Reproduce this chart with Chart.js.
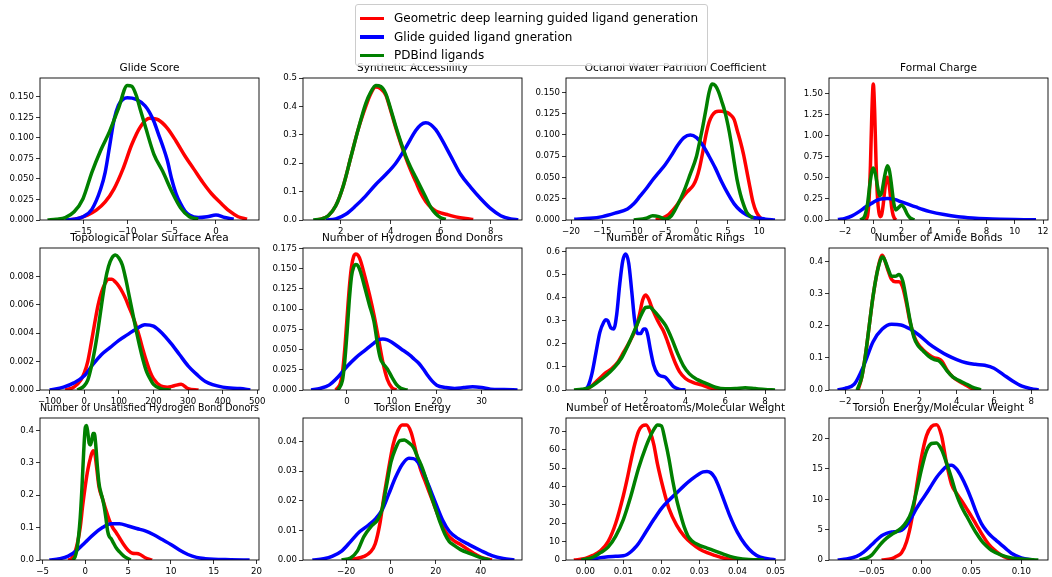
<!DOCTYPE html>
<html>
<head>
<meta charset="utf-8">
<script src="https://cdn.jsdelivr.net/npm/chart.js@4/dist/chart.umd.min.js"></script>
<style>
  body { margin: 0; width: 1052px; height: 577px; overflow: hidden; background: #fff; position: relative; font-family: "DejaVu Sans", sans-serif; }
  canvas { position: absolute; }
  #legend { position: absolute; left: 355px; top: 4px; width: 353px; height: 62px; box-sizing: border-box; border: 1px solid #cccccc; border-radius: 3px; background: rgba(255,255,255,0.8); padding-top: 4px; z-index: 10; overflow: hidden; }
  #legend .item { display: flex; align-items: center; height: 18.5px; font-size: 12px; color: #000; white-space: nowrap; }
  #legend .swatch { display: inline-block; flex-shrink: 0; width: 24px; height: 3.5px; margin: 0 10px 0 4px; }
</style>
</head>
<body>
<div id="legend"></div>
<script>
const seriesNames = ["Geometric deep learning guided ligand generation", "Glide guided ligand gneration", "PDBind ligands"]
const seriesColors = ["#ff0000", "#0000ff", "#008000"]

const titles = [
  "Glide Score", "Synthetic Accessiility", "Octanol Water Patrition Coefficient", "Formal Charge",
  "Topological Polar Surface Area", "Number of Hydrogen Bond Donors", "Number of Aromatic Rings", "Number of Amide Bonds",
  "Number of Unsatisfied Hydrogen Bond Donors", "Torsion Energy", "Number of Heteroatoms/Molecular Weight", "Torsion Energy/Molecular Weight"
]

// ---- curves as [x, density] pairs ----
const glideRed = [[-16.5,0],[-15.5,0.002],[-14.5,0.006],[-13.5,0.012],[-12.5,0.022],[-11.5,0.038],[-10.5,0.062],[-9.5,0.092],[-8.5,0.114],[-7.5,0.124],[-6.5,0.122],[-5.5,0.112],[-4.5,0.096],[-3.5,0.078],[-2.5,0.062],[-1.5,0.046],[-0.5,0.032],[0.5,0.021],[1.5,0.011],[2.5,0.004],[3.5,0.001]]
const glideBlue = [[-17,0],[-16,0.001],[-15,0.004],[-14,0.013],[-13,0.038],[-12.5,0.058],[-12,0.09],[-11.5,0.122],[-11,0.14],[-10.5,0.147],[-10,0.149],[-9,0.147],[-8,0.139],[-7.5,0.131],[-7,0.12],[-6.5,0.105],[-6,0.09],[-5.5,0.073],[-5,0.05],[-4.5,0.032],[-4,0.02],[-3.5,0.011],[-3,0.006],[-2,0.003],[-1,0.004],[0,0.006],[1,0.003],[2,0.001]]
const glideGreen = [[-19,0],[-18,0.001],[-17,0.003],[-16,0.01],[-15,0.026],[-14,0.058],[-13,0.085],[-12,0.108],[-11,0.136],[-10,0.164],[-9.5,0.163],[-9,0.152],[-8.5,0.133],[-8,0.115],[-7,0.08],[-6,0.059],[-5,0.035],[-4,0.015],[-3,0.004],[-2,0.001]]

const synthRed = [[1.0,0],[1.2,0.003],[1.5,0.015],[1.8,0.05],[2.1,0.12],[2.4,0.22],[2.7,0.32],[3.0,0.40],[3.2,0.445],[3.4,0.468],[3.6,0.462],[3.8,0.44],[4.0,0.385],[4.2,0.325],[4.4,0.27],[4.6,0.22],[4.8,0.175],[5.0,0.135],[5.2,0.095],[5.4,0.065],[5.6,0.045],[5.8,0.032],[6.0,0.025],[6.3,0.018],[6.6,0.011],[7.0,0.005],[7.3,0.002]]
const synthBlue = [[1.4,0],[1.8,0.004],[2.2,0.02],[2.6,0.05],[3.0,0.085],[3.4,0.125],[3.8,0.16],[4.2,0.2],[4.6,0.255],[5.0,0.315],[5.2,0.335],[5.4,0.342],[5.6,0.336],[5.8,0.318],[6.0,0.29],[6.4,0.225],[6.8,0.16],[7.2,0.115],[7.6,0.075],[8.0,0.04],[8.4,0.015],[8.8,0.004],[9.1,0.001]]
const synthGreen = [[0.9,0],[1.2,0.003],[1.5,0.015],[1.8,0.05],[2.1,0.12],[2.4,0.22],[2.7,0.32],[3.0,0.41],[3.2,0.45],[3.4,0.474],[3.6,0.47],[3.8,0.445],[4.0,0.39],[4.2,0.33],[4.4,0.275],[4.6,0.225],[4.8,0.185],[5.0,0.15],[5.2,0.115],[5.4,0.08],[5.6,0.045],[5.8,0.022],[6.0,0.008],[6.2,0.002]]

const octRed = [[-6.5,0],[-5.5,0.002],[-4.5,0.006],[-3.5,0.014],[-2.5,0.024],[-1.5,0.033],[-0.5,0.041],[0,0.049],[0.5,0.062],[1,0.08],[1.5,0.1],[2,0.115],[2.5,0.123],[3,0.127],[3.5,0.128],[4,0.128],[4.5,0.127],[5,0.126],[5.5,0.123],[6,0.118],[6.5,0.105],[7,0.092],[7.5,0.077],[8,0.058],[8.5,0.039],[9,0.021],[9.5,0.01],[10,0.004],[10.5,0.001],[11,0]]
const octBlue = [[-19.5,0.001],[-17,0.002],[-15,0.004],[-13,0.008],[-11,0.013],[-10,0.019],[-9,0.028],[-8,0.037],[-7,0.047],[-6,0.056],[-5,0.065],[-4,0.076],[-3,0.088],[-2,0.097],[-1,0.1],[0,0.097],[1,0.088],[2,0.075],[3,0.061],[4,0.045],[5,0.031],[6,0.019],[7,0.011],[8,0.006],[9,0.003],[10,0.002],[11,0.001],[12.5,0]]
const octGreen = [[-10,0],[-8,0.002],[-7,0.005],[-6,0.004],[-5,0.001],[-4,0.005],[-3,0.018],[-2,0.034],[-1,0.054],[0,0.075],[0.5,0.092],[1,0.11],[1.5,0.13],[2,0.15],[2.5,0.16],[3,0.158],[3.5,0.151],[4,0.14],[4.5,0.128],[5,0.112],[5.5,0.092],[6,0.068],[6.5,0.046],[7,0.03],[7.5,0.018],[8,0.009],[9,0.002]]

const chargeRed = [[-0.6,0],[-0.5,0.01],[-0.4,0.05],[-0.3,0.24],[-0.2,0.65],[-0.1,1.28],[0,1.62],[0.1,1.28],[0.2,0.66],[0.3,0.26],[0.4,0.09],[0.5,0.04],[0.6,0.07],[0.7,0.18],[0.8,0.34],[0.9,0.47],[1.0,0.51],[1.1,0.45],[1.2,0.3],[1.3,0.15],[1.4,0.06],[1.5,0.02],[1.6,0]]
const chargeBlue = [[-2.5,0.005],[-2,0.02],[-1.5,0.05],[-1,0.1],[-0.5,0.16],[0,0.21],[0.5,0.25],[1,0.255],[1.5,0.245],[2,0.215],[2.5,0.185],[3,0.155],[3.5,0.125],[4,0.1],[5,0.065],[6,0.04],[7,0.025],[8,0.015],[9,0.009],[10,0.005],[11,0.003],[11.5,0.002]]
const chargeGreen = [[-0.9,0],[-0.6,0.05],[-0.4,0.2],[-0.2,0.48],[0,0.62],[0.15,0.55],[0.3,0.4],[0.45,0.29],[0.6,0.33],[0.8,0.52],[1.0,0.645],[1.15,0.58],[1.3,0.4],[1.45,0.2],[1.6,0.12],[1.8,0.15],[2.0,0.18],[2.2,0.14],[2.4,0.07],[2.6,0.025],[2.9,0]]

const tpsaRed = [[-55,0],[-30,0.0002],[-10,0.0007],[0,0.0012],[10,0.002],[20,0.0033],[30,0.0047],[40,0.006],[50,0.0069],[60,0.0075],[70,0.0078],[80,0.0078],[90,0.0076],[100,0.0073],[110,0.0069],[120,0.0064],[130,0.0058],[140,0.0052],[150,0.0045],[160,0.0037],[170,0.0028],[180,0.002],[190,0.0013],[200,0.0008],[220,0.0003],[240,0.0002],[260,0.0003],[280,0.0004],[300,0.0001],[330,0]]
const tpsaBlue = [[-100,0],[-60,0.0002],[-30,0.0005],[0,0.001],[25,0.0018],[50,0.0025],[75,0.003],[100,0.0035],[125,0.0039],[150,0.0043],[175,0.0046],[200,0.0045],[225,0.004],[250,0.0033],[275,0.0025],[300,0.0017],[325,0.0011],[350,0.0006],[400,0.0002],[450,0.0001],[480,0]]
const tpsaGreen = [[-20,0],[0,0.0003],[10,0.0007],[20,0.0016],[30,0.0028],[40,0.0043],[50,0.006],[60,0.0076],[70,0.0087],[80,0.0093],[90,0.0095],[100,0.0093],[110,0.0088],[120,0.0078],[130,0.0066],[140,0.0054],[150,0.0042],[160,0.0031],[170,0.0021],[180,0.0013],[190,0.0008],[200,0.0004],[220,0.0001],[250,0]]

const donorRed = [[-2.5,0],[-1.5,0.008],[-1,0.022],[-0.5,0.05],[0,0.088],[0.5,0.125],[1,0.152],[1.5,0.165],[2,0.168],[2.5,0.166],[3,0.16],[4,0.14],[5,0.118],[6,0.093],[7,0.064],[8,0.034],[9,0.013],[10,0.003],[11,0]]
const donorBlue = [[-8,0],[-6,0.002],[-4,0.006],[-2,0.016],[0,0.029],[2,0.04],[4,0.049],[6,0.058],[7,0.062],[8,0.063],[9,0.062],[10,0.059],[12,0.051],[14,0.043],[15,0.038],[16,0.033],[17,0.026],[18,0.018],[19,0.011],[20,0.006],[22,0.003],[24,0.002],[26,0.003],[28,0.004],[30,0.003],[32,0.001],[35,0.0005],[38,0]]
const donorGreen = [[-2,0],[-1,0.012],[-0.5,0.035],[0,0.07],[0.5,0.11],[1,0.14],[1.5,0.152],[2,0.155],[2.5,0.153],[3,0.146],[4,0.126],[5,0.105],[6,0.085],[7,0.05],[7.5,0.038],[8,0.033],[9,0.026],[10,0.016],[11,0.007],[12,0.002],[13.5,0]]

const aromRed = [[-1.1,0],[-0.8,0.012],[-0.5,0.035],[-0.2,0.06],[0,0.075],[0.3,0.093],[0.6,0.12],[0.9,0.165],[1.2,0.21],[1.5,0.265],[1.7,0.33],[1.85,0.39],[2.0,0.412],[2.15,0.395],[2.3,0.36],[2.5,0.32],[2.7,0.285],[2.9,0.255],[3.1,0.21],[3.3,0.16],[3.5,0.115],[3.7,0.08],[4.0,0.05],[4.4,0.032],[4.8,0.022],[5.2,0.01],[5.6,0.003],[6.0,0]]
const aromBlue = [[-1.1,0],[-0.9,0.015],[-0.7,0.07],[-0.5,0.16],[-0.3,0.25],[-0.1,0.295],[0,0.305],[0.1,0.3],[0.25,0.27],[0.4,0.265],[0.55,0.33],[0.7,0.46],[0.85,0.56],[1.0,0.59],[1.15,0.55],[1.3,0.43],[1.45,0.3],[1.6,0.245],[1.75,0.245],[1.9,0.265],[2.0,0.265],[2.1,0.24],[2.25,0.17],[2.4,0.11],[2.6,0.07],[2.8,0.06],[3.0,0.055],[3.2,0.035],[3.4,0.015],[3.7,0.003],[4.0,0]]
const aromGreen = [[-1.6,0],[-1.2,0.003],[-0.8,0.012],[-0.4,0.035],[0,0.062],[0.4,0.095],[0.8,0.14],[1.2,0.21],[1.5,0.27],[1.8,0.33],[2.0,0.358],[2.2,0.36],[2.4,0.345],[2.7,0.315],[3.0,0.28],[3.3,0.225],[3.6,0.16],[3.9,0.105],[4.2,0.07],[4.6,0.045],[5.0,0.03],[5.5,0.012],[6.0,0.005],[6.5,0.006],[7.0,0.01],[7.5,0.006],[8.0,0.002],[8.5,0]]

const amideRed = [[-1.3,0],[-1.1,0.04],[-0.9,0.11],[-0.7,0.2],[-0.5,0.29],[-0.3,0.36],[-0.1,0.41],[0,0.42],[0.1,0.41],[0.3,0.375],[0.5,0.345],[0.7,0.338],[0.9,0.338],[1.1,0.32],[1.3,0.27],[1.5,0.21],[1.7,0.17],[1.9,0.145],[2.2,0.125],[2.5,0.11],[2.8,0.1],[3.0,0.098],[3.2,0.09],[3.5,0.06],[3.8,0.04],[4.1,0.028],[4.4,0.018],[4.7,0.008],[5.0,0]]
const amideBlue = [[-2.4,0],[-2,0.005],[-1.5,0.018],[-1,0.075],[-0.5,0.15],[0,0.19],[0.5,0.205],[1,0.203],[1.5,0.19],[2,0.17],[2.5,0.145],[3,0.125],[3.5,0.108],[4,0.095],[4.5,0.085],[5,0.08],[5.5,0.077],[6,0.068],[6.5,0.048],[7,0.028],[7.5,0.012],[8,0.004],[8.4,0]]
const amideGreen = [[-1.35,0],[-1.1,0.04],[-0.9,0.11],[-0.7,0.2],[-0.5,0.29],[-0.3,0.36],[-0.1,0.405],[0,0.415],[0.1,0.41],[0.3,0.38],[0.5,0.355],[0.7,0.355],[0.9,0.36],[1.1,0.34],[1.3,0.28],[1.5,0.215],[1.7,0.165],[1.9,0.14],[2.2,0.122],[2.5,0.105],[2.8,0.095],[3.0,0.092],[3.2,0.082],[3.5,0.058],[3.8,0.04],[4.1,0.03],[4.4,0.022],[4.8,0.01],[5.3,0]]

const unsatRed = [[-2,0],[-1.6,0.005],[-1.2,0.025],[-0.9,0.055],[-0.6,0.1],[-0.3,0.17],[0,0.23],[0.3,0.28],[0.6,0.315],[0.9,0.337],[1.1,0.33],[1.3,0.29],[1.6,0.225],[2.0,0.19],[2.4,0.155],[2.8,0.123],[3.2,0.1],[3.6,0.085],[4.0,0.068],[4.5,0.047],[5.0,0.03],[5.5,0.021],[6.0,0.02],[6.4,0.017],[7.0,0.007],[7.8,0]]
const unsatBlue = [[-4.2,0],[-3,0.004],[-2,0.012],[-1,0.03],[0,0.055],[1,0.08],[2,0.1],[3,0.112],[4,0.112],[5,0.105],[6,0.097],[7,0.09],[8,0.078],[9,0.063],[10,0.048],[11,0.031],[12,0.017],[13,0.008],[14,0.004],[15,0.002],[17,0.001],[19.2,0]]
const unsatGreen = [[-1.45,0],[-1.2,0.01],[-1,0.03],[-0.8,0.07],[-0.6,0.13],[-0.4,0.22],[-0.2,0.33],[0,0.41],[0.15,0.415],[0.3,0.39],[0.45,0.36],[0.6,0.355],[0.75,0.37],[0.9,0.39],[1.05,0.39],[1.2,0.36],[1.4,0.29],[1.6,0.235],[1.8,0.21],[2.0,0.19],[2.2,0.165],[2.4,0.13],[2.6,0.09],[2.8,0.072],[3.0,0.066],[3.3,0.052],[3.6,0.038],[4.0,0.025],[4.5,0.012],[5.0,0.004],[5.3,0]]

const torsRed = [[-21,0],[-16,0.0004],[-12,0.0012],[-9,0.0028],[-7,0.0055],[-5,0.012],[-3,0.022],[-1,0.031],[1,0.039],[3,0.0435],[5,0.0455],[7,0.0455],[9,0.043],[11,0.037],[13,0.031],[15,0.027],[17,0.023],[19,0.019],[21,0.015],[23,0.0115],[25,0.0088],[28,0.0065],[31,0.0052],[34,0.0037],[37,0.0022],[40,0.001],[45,0]]
const torsBlue = [[-35,0],[-30,0.0004],[-26,0.0013],[-22,0.003],[-18,0.0062],[-14,0.0095],[-10,0.0118],[-7,0.0138],[-4,0.0168],[-1,0.0222],[2,0.0278],[5,0.0322],[8,0.0343],[10,0.0342],[12,0.033],[14,0.0303],[17,0.0248],[20,0.019],[23,0.0135],[26,0.0097],[30,0.0072],[35,0.0051],[40,0.0032],[45,0.0015],[50,0.0005],[55,0]]
const torsGreen = [[-22,0],[-18,0.0007],[-15,0.003],[-12,0.008],[-9,0.0112],[-6,0.0135],[-4,0.017],[-2,0.025],[0,0.033],[2,0.0375],[4,0.0403],[6,0.0405],[8,0.0395],[10,0.038],[12,0.0345],[14,0.031],[16,0.0265],[18,0.0215],[20,0.017],[22,0.0125],[24,0.0088],[26,0.0062],[28,0.005],[31,0.0035],[35,0.0022],[40,0.0008],[44,0]]

const heteroRed = [[-0.003,0],[0,0.8],[0.002,2.5],[0.004,5],[0.006,10],[0.008,20],[0.010,35],[0.011,44],[0.012,54],[0.013,63],[0.014,70],[0.015,73],[0.016,73.5],[0.017,70],[0.018,63],[0.019,52],[0.020,43],[0.021,35],[0.022,28],[0.024,19],[0.026,13],[0.028,9],[0.030,6],[0.032,4],[0.034,2.5],[0.036,1.2],[0.038,0.4],[0.040,0]]
const heteroBlue = [[-0.001,0],[0.002,0.5],[0.004,1.3],[0.006,1.8],[0.008,2],[0.010,2.3],[0.011,3],[0.012,4.5],[0.013,6.5],[0.014,9],[0.016,15.5],[0.018,22],[0.020,28],[0.022,32.5],[0.024,36.5],[0.026,40.5],[0.028,44],[0.030,47],[0.031,48],[0.032,48.2],[0.033,47.5],[0.034,45],[0.035,40.5],[0.036,35],[0.037,29.5],[0.038,24],[0.040,15],[0.042,8.5],[0.044,4],[0.046,1.5],[0.050,0]]
const heteroGreen = [[-0.001,0],[0.002,1.5],[0.004,4],[0.006,7],[0.008,13],[0.010,22],[0.012,35],[0.014,50],[0.016,62],[0.017,67],[0.018,71],[0.019,73.5],[0.020,73],[0.021,65],[0.022,55],[0.023,43],[0.024,33],[0.025,25],[0.026,18],[0.027,13],[0.028,10.5],[0.030,8],[0.032,6.5],[0.034,5],[0.036,3.5],[0.038,2],[0.040,1],[0.043,0.3],[0.047,0]]

const torsMwRed = [[-0.04,0],[-0.03,0.2],[-0.025,0.6],[-0.02,1.2],[-0.015,3],[-0.01,6.5],[-0.005,12],[0,17],[0.005,20.5],[0.01,22],[0.015,22.3],[0.02,20.5],[0.025,16],[0.03,12.5],[0.035,11],[0.04,9.8],[0.045,8.5],[0.05,7.2],[0.055,5.8],[0.06,4.4],[0.065,3.1],[0.07,2.1],[0.075,1.4],[0.08,0.8],[0.085,0.4],[0.095,0]]
const torsMwBlue = [[-0.084,0],[-0.075,0.15],[-0.065,0.6],[-0.058,1.3],[-0.05,2.5],[-0.045,3.3],[-0.04,4],[-0.035,4.4],[-0.03,4.6],[-0.025,4.7],[-0.02,4.9],[-0.015,5.7],[-0.01,7],[-0.005,8.5],[0,9.8],[0.005,11],[0.01,12.3],[0.015,13.6],[0.02,14.6],[0.025,15.4],[0.03,15.6],[0.035,15],[0.04,13.7],[0.045,12],[0.05,10],[0.055,7.8],[0.06,6],[0.065,4.8],[0.07,3.9],[0.075,3.2],[0.08,2.5],[0.085,1.8],[0.09,1.1],[0.1,0.35],[0.112,0]]
const torsMwGreen = [[-0.062,0],[-0.055,0.3],[-0.05,0.8],[-0.045,1.8],[-0.04,2.8],[-0.035,3.6],[-0.03,4.2],[-0.025,4.7],[-0.02,5.3],[-0.015,6.3],[-0.01,8],[-0.005,11.3],[0,15],[0.005,18],[0.01,19.2],[0.015,19.3],[0.02,18.2],[0.025,16],[0.03,13.5],[0.035,10.8],[0.04,8.8],[0.045,7.3],[0.05,5.8],[0.055,4.4],[0.06,3.2],[0.065,2.3],[0.07,1.6],[0.08,0.8],[0.09,0.35],[0.1,0.15],[0.117,0]]

// ---- tick labels ----
const glideXTicks = ["\u221215", "\u221210", "\u22125", "0"]
const glideYTicks = ["0.000", "0.025", "0.050", "0.075", "0.100", "0.125", "0.150"]
const synthXTicks = ["2", "4", "6", "8"]
const synthYTicks = ["0.0", "0.1", "0.2", "0.3", "0.4", "0.5"]
const octXTicks = ["\u221220", "\u221215", "\u221210", "\u22125", "0", "5", "10"]
const octYTicks = ["0.000", "0.025", "0.050", "0.075", "0.100", "0.125", "0.150"]
const chargeXTicks = ["\u22122", "0", "2", "4", "6", "8", "10", "12"]
const chargeYTicks = ["0.00", "0.25", "0.50", "0.75", "1.00", "1.25", "1.50"]
const tpsaXTicks = ["\u2212100", "0", "100", "200", "300", "400", "500"]
const tpsaYTicks = ["0.000", "0.002", "0.004", "0.006", "0.008"]
const donorXTicks = ["0", "10", "20", "30"]
const donorYTicks = ["0.000", "0.025", "0.050", "0.075", "0.100", "0.125", "0.150", "0.175"]
const aromXTicks = ["0", "2", "4", "6", "8"]
const aromYTicks = ["0.0", "0.1", "0.2", "0.3", "0.4", "0.5", "0.6"]
const amideXTicks = ["\u22122", "0", "2", "4", "6", "8"]
const amideYTicks = ["0.0", "0.1", "0.2", "0.3", "0.4"]
const unsatXTicks = ["\u22125", "0", "5", "10", "15", "20"]
const unsatYTicks = ["0.0", "0.1", "0.2", "0.3", "0.4"]
const torsXTicks = ["\u221220", "0", "20", "40"]
const torsYTicks = ["0.00", "0.01", "0.02", "0.03", "0.04"]
const heteroXTicks = ["0.00", "0.01", "0.02", "0.03", "0.04", "0.05"]
const heteroYTicks = ["0", "10", "20", "30", "40", "50", "60", "70"]
const torsMwXTicks = ["\u22120.05", "0.00", "0.05", "0.10"]
const torsMwYTicks = ["0", "5", "10", "15", "20"]

// axis limits [xmin, xmax, ymax]
const glideLim = [-19.85, 4.85, 0.173]
const synthLim = [0.49, 9.25, 0.5]
const octLim = [-20.8, 14.1, 0.167]
const chargeLim = [-3.13, 12.35, 1.69]
const tpsaLim = [-128, 505, 0.01]
const donorLim = [-9.8, 39, 0.1754]
const aromLim = [-2.0, 9.0, 0.616]
const amideLim = [-2.86, 8.9, 0.443]
const unsatLim = [-5.3, 20.3, 0.438]
const torsLim = [-39.2, 58.4, 0.0479]
const heteroLim = [-0.00507, 0.0525, 77.3]
const torsMwLim = [-0.0927, 0.1267, 23.4]

const panels = [
  [glideRed, glideBlue, glideGreen, glideXTicks, glideYTicks, glideLim],
  [synthRed, synthBlue, synthGreen, synthXTicks, synthYTicks, synthLim],
  [octRed, octBlue, octGreen, octXTicks, octYTicks, octLim],
  [chargeRed, chargeBlue, chargeGreen, chargeXTicks, chargeYTicks, chargeLim],
  [tpsaRed, tpsaBlue, tpsaGreen, tpsaXTicks, tpsaYTicks, tpsaLim],
  [donorRed, donorBlue, donorGreen, donorXTicks, donorYTicks, donorLim],
  [aromRed, aromBlue, aromGreen, aromXTicks, aromYTicks, aromLim],
  [amideRed, amideBlue, amideGreen, amideXTicks, amideYTicks, amideLim],
  [unsatRed, unsatBlue, unsatGreen, unsatXTicks, unsatYTicks, unsatLim],
  [torsRed, torsBlue, torsGreen, torsXTicks, torsYTicks, torsLim],
  [heteroRed, heteroBlue, heteroGreen, heteroXTicks, heteroYTicks, heteroLim],
  [torsMwRed, torsMwBlue, torsMwGreen, torsMwXTicks, torsMwYTicks, torsMwLim],
]

// layout of the grid (page pixels)
const colLeft = [40, 303, 566, 829]
const rowTop = [78, 248, 418]
const plotW = 219, plotH = 142
const yAxisW = 38, titleH = 16, xAxisH = 20, padRight = 14

Chart.defaults.font.family = "'DejaVu Sans', sans-serif"
Chart.defaults.color = "#000"

function num(s) {
  return parseFloat(s.replace("\u2212", "-"))
}

const framePlugin = {
  id: "frame",
  afterDraw(chart) {
    const a = chart.chartArea
    const ctx = chart.ctx
    ctx.save()
    ctx.strokeStyle = "#000"
    ctx.lineWidth = 0.9
    ctx.strokeRect(a.left, a.top, a.right - a.left, a.bottom - a.top)
    ctx.restore()
  }
}

// legend
const legend = document.getElementById("legend")
seriesNames.forEach((name, i) => {
  const item = document.createElement("div")
  item.className = "item"
  const sw = document.createElement("span")
  sw.className = "swatch"
  sw.style.background = seriesColors[i]
  item.appendChild(sw)
  item.appendChild(document.createTextNode(name))
  legend.appendChild(item)
})

panels.forEach((p, k) => {
  const [red, blue, green, xTicks, yTicks, lim] = p
  const canvas = document.createElement("canvas")
  canvas.width = yAxisW + plotW + padRight
  canvas.height = titleH + plotH + xAxisH
  canvas.style.left = (colLeft[k % 4] - yAxisW) + "px"
  canvas.style.top = (rowTop[Math.floor(k / 4)] - titleH) + "px"
  document.body.appendChild(canvas)

  const curves = [red, blue, green]
  new Chart(canvas.getContext("2d"), {
    type: "line",
    data: {
      datasets: curves.map((c, i) => ({
        label: seriesNames[i],
        data: c.map(([x, y]) => ({ x, y })),
        borderColor: seriesColors[i],
        borderWidth: 3.5,
        pointRadius: 0,
        fill: false,
        cubicInterpolationMode: "monotone",
        order: 3 - i,
        clip: 0,
      })),
    },
    options: {
      responsive: false,
      animation: false,
      devicePixelRatio: 1,
      layout: { padding: { left: 0, right: padRight, top: 0, bottom: 0 } },
      plugins: {
        legend: { display: false },
        tooltip: { enabled: false },
        title: {
          display: true,
          text: titles[k],
          fullSize: false,
          color: "#000",
          font: { size: 10.5, weight: "normal" },
          padding: { top: 0, bottom: 3.4 },
        },
      },
      scales: {
        x: {
          type: "linear",
          min: lim[0],
          max: lim[1],
          afterBuildTicks: (s) => { s.ticks = xTicks.map((t) => ({ value: num(t) })) },
          afterFit: (s) => { s.height = xAxisH; s.paddingLeft = 0; s.paddingRight = 0 },
          ticks: { autoSkip: false, maxRotation: 0, padding: 2.5, color: "#000", font: { size: 8.6 }, callback: (v, i) => xTicks[i] },
          grid: { drawOnChartArea: false, drawTicks: true, tickLength: 4, color: "#000", lineWidth: 0.8 },
          border: { display: false },
        },
        y: {
          type: "linear",
          min: 0,
          max: lim[2],
          afterBuildTicks: (s) => { s.ticks = yTicks.map((t) => ({ value: num(t) })) },
          afterFit: (s) => { s.width = yAxisW; s.paddingTop = 0; s.paddingBottom = 0 },
          ticks: { autoSkip: false, padding: 2, color: "#000", font: { size: 8.6 }, callback: (v, i) => yTicks[i] },
          grid: { drawOnChartArea: false, drawTicks: true, tickLength: 4, color: "#000", lineWidth: 0.8 },
          border: { display: false },
        },
      },
    },
    plugins: [framePlugin],
  })
})
</script>
</body>
</html>
